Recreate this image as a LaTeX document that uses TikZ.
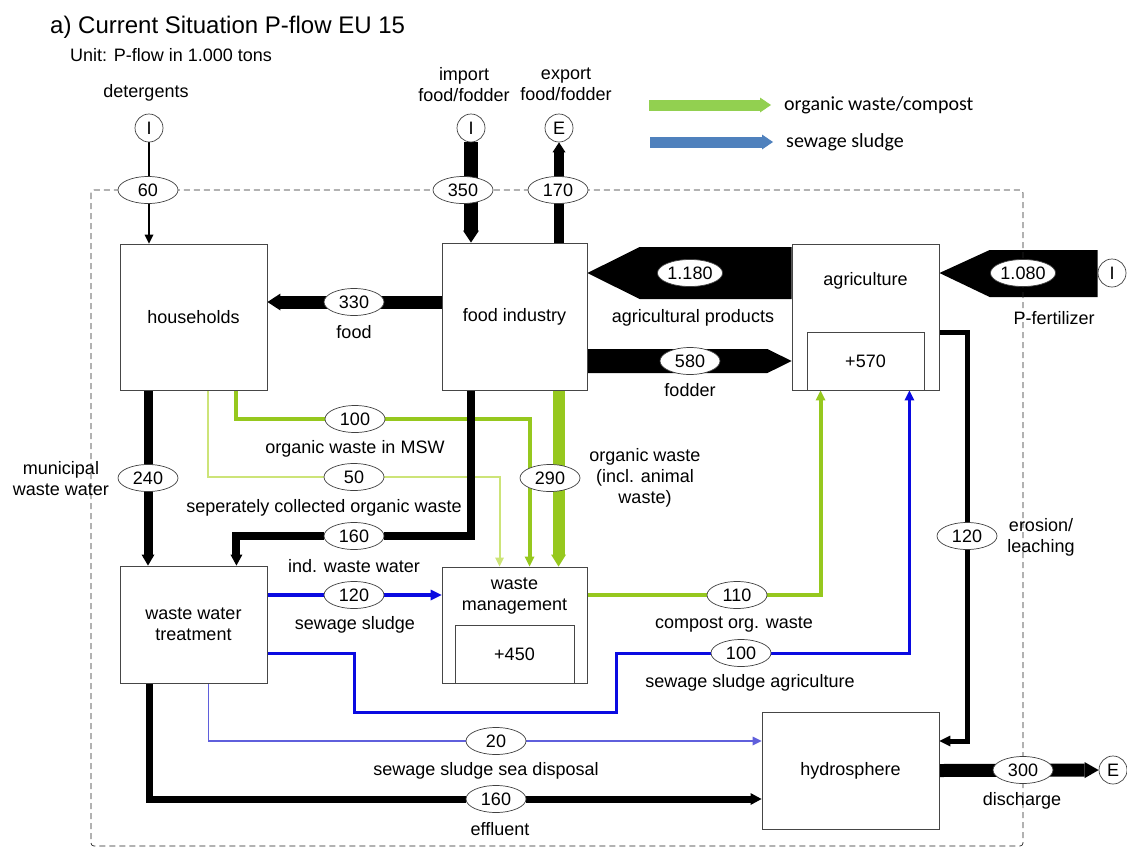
\documentclass[tikz,border=0pt]{standalone}
\usepackage{fontspec}
\setmainfont{Liberation Sans}
\newfontfamily\legendfont{Carlito}
\usetikzlibrary{arrows.meta,shapes.geometric,calc,positioning}

\definecolor{boxline}{RGB}{70,70,70}
\definecolor{orgwaste}{RGB}{150,200,30}
\definecolor{orglight}{RGB}{205,228,120}
\definecolor{sludge}{RGB}{10,10,225}
\definecolor{sludgethin}{RGB}{95,95,220}
\definecolor{legendgreen}{RGB}{146,208,80}
\definecolor{legendblue}{RGB}{79,129,189}

\pgfdeclarelayer{flows}
\pgfsetlayers{flows,main}

\tikzset{
  box/.style={draw=boxline, line width=0.9pt, inner sep=0pt, align=center},
  val/.style={ellipse, draw=black!75, fill=white, line width=0.7pt, inner sep=0.5pt,
    minimum width=60pt, minimum height=27pt},
  port/.style={circle, draw=black!75, fill=white, line width=0.7pt, minimum size=28pt, inner sep=0pt},
  txt/.style={align=center, inner sep=0pt},
  tip/.style={-{Triangle[length=#1,width=#1,line width=0pt]}},
}

\begin{document}
\begin{tikzpicture}[x=1pt, y=-1pt, font=\fontsize{18}{21}\selectfont]
\useasboundingbox (0,0) rectangle (1127,852);

\node[txt, anchor=west, font=\fontsize{24}{28}\selectfont] (title) at (50,27) {a) Current Situation P-flow EU 15};
\node[txt, anchor=west] (unit) at (70,55) {Unit: P-flow in 1.000 tons};

% legend
\coordinate (lggreen) at (649,105);
\coordinate (lgblue) at (650,142);
\node[txt, anchor=west, font=\legendfont\fontsize{20}{24}\selectfont] (lgorg) at (784,105) {organic waste/compost};
\node[txt, anchor=west, font=\legendfont\fontsize{20}{24}\selectfont] (lgsl) at (786,142) {sewage sludge};
\draw[legendgreen, line width=11pt, -{Triangle[length=11pt,width=15pt,line width=0pt]}] (lggreen) -- ([xshift=-13pt]lgorg.west);
\draw[legendblue, line width=11pt, -{Triangle[length=11pt,width=15pt,line width=0pt]}] (lgblue) -- ([xshift=-13pt]lgsl.west);

% system boundary
\draw[black!85, line width=0.7pt, rounded corners=3pt, dash pattern=on 6pt off 4pt] (91,190) rectangle (1023,846);

% processes
\node[box, minimum width=147pt, minimum height=146pt] (hh) at (193.5,317) {households};
\node[box, minimum width=145pt, minimum height=147pt] (food) at (514.5,316.5) {food industry};
\node[box, minimum width=147pt, minimum height=146pt] (agri) at (865.5,317) {};
\node[txt] (agrilbl) at (865.5,281) {agriculture};
\node[box, minimum width=117pt, minimum height=58pt] (agristock) at (865.5,361) {+570};
\node[box, minimum width=147pt, minimum height=117pt] (wwt) at (193.5,624.5) {waste water\\treatment};
\node[box, minimum width=145pt, minimum height=116pt] (wm) at (514.5,625) {};
\node[txt] (wmlbl) at (514.5,596) {waste\\management};
\node[box, minimum width=119pt, minimum height=58pt] (wmstock) at (514.5,654) {+450};
\node[box, minimum width=177pt, minimum height=117pt] (hydro) at (850.5,770.5) {hydrosphere};

% imports and exports
\node[port] (detI) at (149,128) {I};
\node[txt] (detlbl) at (146,93) {detergents};
\node[port] (impI) at (471,128) {I};
\node[txt] (implbl) at (464,84.5) {import\\food/fodder};
\node[port] (expE) at (559,128) {E};
\node[txt] (explbl) at (566,84.5) {export\\food/fodder};
\node[port] (fertI) at (1112,273) {I};
\node[port] (disE) at (1113,770) {E};

% flow values
\node[val] (v60) at (148,190) {60};
\node[val] (v350) at (463,190) {350};
\node[val] (v170) at (558,190) {170};
\node[val] (v330) at (354,302) {330};
\node[val] (v1180) at (690,273) {1.180};
\node[val] (v580) at (690,361) {580};
\node[val] (v1080) at (1023,273) {1.080};
\node[val] (v100msw) at (355,419) {100};
\node[val] (v50) at (354,477) {50};
\node[val] (v240) at (148,478) {240};
\node[val] (v290) at (550,478) {290};
\node[val] (v160ind) at (354,536) {160};
\node[val] (v120er) at (967,536) {120};
\node[val] (v120sl) at (354,595) {120};
\node[val] (v110) at (737,595) {110};
\node[val] (v100ag) at (741,653) {100};
\node[val] (v20) at (496,741) {20};
\node[val] (v300) at (1023,770) {300};
\node[val] (v160ef) at (496,799) {160};

% flow names
\node[txt] (foodlbl) at (354,332) {food};
\node[txt] (aplbl) at (693,318) {agricultural products};
\node[txt] (fodlbl) at (690,390) {fodder};
\node[txt] (fertlbl) at (1054,318) {P-fertilizer};
\node[txt] (mswlbl) at (355,449) {organic waste in MSW};
\node[txt] (sclbl) at (324,508) {seperately collected organic waste};
\node[txt] (mwwlbl) at (61,479) {municipal\\waste water};
\node[txt] (owlbl) at (645,478) {organic waste\\(incl. animal\\waste)};
\node[txt] (indlbl) at (354,566) {ind. waste water};
\node[txt] (sllbl) at (355,625) {sewage sludge};
\node[txt] (complbl) at (734,625) {compost org. waste};
\node[txt] (slaglbl) at (750,683) {sewage sludge agriculture};
\node[txt] (erolbl) at (1041,537) {erosion/\\leaching};
\node[txt] (sealbl) at (486,771) {sewage sludge sea disposal};
\node[txt] (efflbl) at (500,829) {effluent};
\node[txt] (dislbl) at (1022,801) {discharge};

\begin{pgfonlayer}{flows}
% organic waste
\draw[orglight, line width=2pt, tip=9pt] ([xshift=-59pt]hh.south east) |- (v50) -| ([xshift=58pt]wm.north west);
\draw[orgwaste, line width=4pt, tip=10pt] ([xshift=-31pt]hh.south east) |- (v100msw) -| ([xshift=88pt]wm.north west);
\draw[orgwaste, line width=12pt, -{Triangle[length=12pt,width=15pt,line width=0pt]}] ([xshift=117pt]food.south west) -- ([xshift=117pt]wm.north west);
\draw[orgwaste, line width=4pt, tip=10pt] (wm.east |- v110) -| ([xshift=29pt]agri.south west);
% sewage sludge
\draw[sludge, line width=4pt, tip=11pt] (wwt.east |- v120sl) -- (wm.west |- v120sl);
\draw[sludge, line width=3pt, tip=10pt] ([yshift=-28.5pt]wwt.east) -- ++(87,0) -- ++(0,59) -- ++(262,0) |- (v100ag) -| ([xshift=-30pt]agri.south east);
\draw[sludgethin, line width=1.5pt, tip=9pt] ([xshift=-59pt]wwt.south east) |- (v20) -- (hydro.west |- v20);
% black flows
\draw[line width=1.2pt, tip=9pt] (detI) -- (detI |- hh.north);
\draw[line width=14pt, -{Triangle[length=12pt,width=16pt,line width=0pt]}] (impI) -- (impI |- food.north);
\draw[line width=10pt, -{Triangle[length=10pt,width=13pt,line width=0pt]}] (food.north -| expE) -- (expE);
\draw[line width=13pt, -{Triangle[length=13pt,width=17pt,line width=0pt]}] (food.west |- v330) -- (hh.east |- v330);
\fill ([yshift=70pt]agri.west) -- ++(-152,0) -- ([yshift=43.5pt]food.east) -- ([xshift=-152pt,yshift=18pt]agri.west) -- ([yshift=18pt]agri.west) -- cycle;
\fill ([yshift=-32.5pt]food.east) -- ++(180,0) -- ([yshift=-44pt]agri.west) -- ([xshift=180pt,yshift=-56.5pt]food.east) -- ([yshift=-56.5pt]food.east) -- cycle;
\fill ([yshift=23pt]fertI.west) -- ++(-108,0) -- ([yshift=44pt]agri.east) -- ([xshift=-108pt,yshift=-24pt]fertI.west) -- ([yshift=-24pt]fertI.west) -- cycle;
\draw[line width=9pt, -{Triangle[length=11pt,width=13pt,line width=0pt]}] (v240 |- hh.south) -- (v240 |- wwt.north);
\draw[line width=8pt, -{Triangle[length=11pt,width=12pt,line width=0pt]}] ([xshift=29pt]food.south west) |- (v160ind) -| ([xshift=-31pt]wwt.north east);
\draw[line width=7pt, -{Triangle[length=11pt,width=12pt,line width=0pt]}] ([xshift=-118pt]wwt.south east) |- (v160ef) -- (hydro.west |- v160ef);
\draw[line width=5pt, tip=11pt] ([yshift=-15pt]agri.east) -| (v120er) |- ([yshift=29.5pt]hydro.east);
\draw[line width=13pt, -{Triangle[length=14pt,width=16pt,line width=0pt]}] (hydro.east) -- (disE);
\end{pgfonlayer}
\end{tikzpicture}
\end{document}
